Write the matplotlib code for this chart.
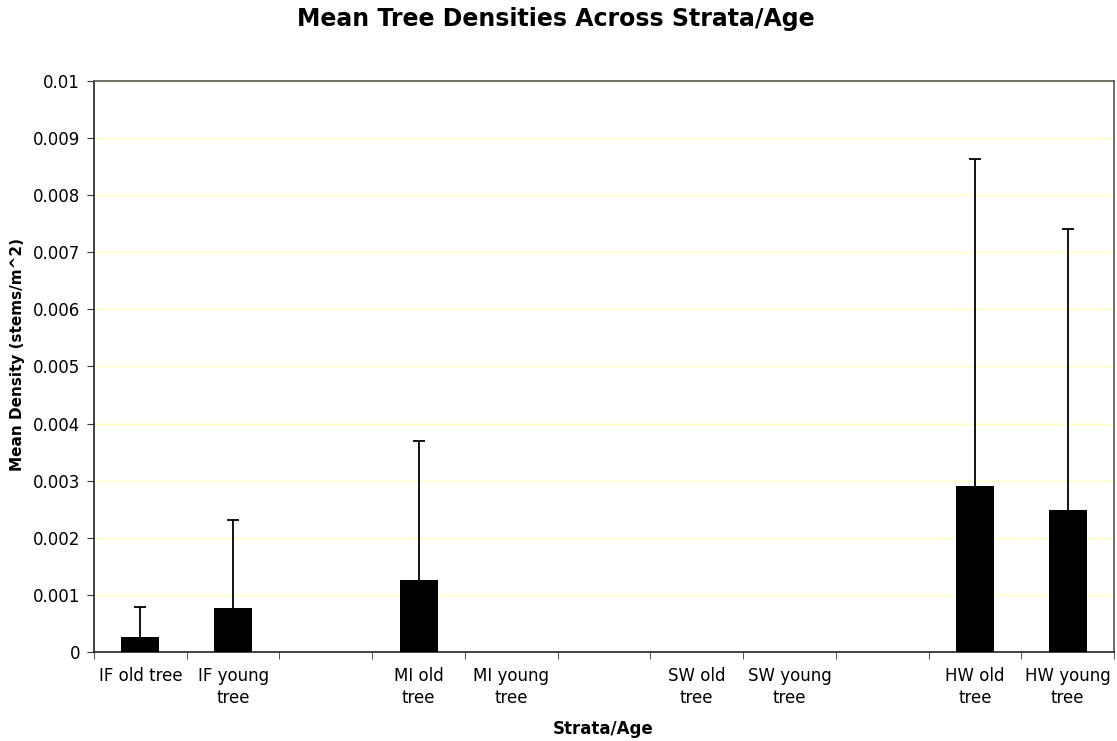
import numpy as np
import matplotlib.pyplot as plt

categories = ['IF old tree', 'IF young\ntree', '', 'MI old\ntree', 'MI young\ntree', '',
              'SW old\ntree', 'SW young\ntree', '', 'HW old\ntree', 'HW young\ntree']
means = [0.00026, 0.000765, 0, 0.00126, 0, 0, 0, 0, 0, 0.00291, 0.00249]
err_top = [0.00079, 0.00232, 0, 0.0037, 0, 0, 0, 0, 0, 0.00863, 0.0074]

means = np.array(means)
err_top = np.array(err_top)
has_bar = means > 0

fig = plt.figure(figsize=(11.17, 7.41), dpi=100)
ax = fig.add_axes([94/1117, 1 - 652/741, 1020/1117, 571/741])

x = np.arange(len(categories))
ax.bar(x, means, width=0.41, color='black', zorder=3)
# plus-only error bars (Excel style): stem from bar top, cap at the top
ax.vlines(x[has_bar], means[has_bar], err_top[has_bar], color='black', linewidth=1.3, zorder=4)
ax.plot(x[has_bar], err_top[has_bar], linestyle='none', marker='_', markersize=8,
        markeredgewidth=1.3, color='black', zorder=4)

ax.set_xlim(-0.5, len(categories) - 0.5)
ax.set_ylim(0, 0.01)
ax.set_yticks(np.arange(0, 0.0101, 0.001))
ax.set_yticklabels(['0'] + ['%g' % v for v in np.arange(0.001, 0.0101, 0.001)], fontsize=12)
ax.yaxis.grid(True, color='#ffffc0', linewidth=1, zorder=0)

ax.set_xticks(x)
ax.set_xticklabels(categories, fontsize=12, linespacing=1.25)
ax.tick_params(axis='x', length=0, pad=11)
ax.set_xticks(np.arange(-0.5, len(categories)), minor=True)
ax.tick_params(axis='x', which='minor', length=5, direction='out', color='#333333')
ax.tick_params(axis='y', length=5, direction='out', color='#333333', pad=5)

for s in ['left', 'bottom']:
    ax.spines[s].set_color('#222222')
    ax.spines[s].set_linewidth(1.2)
for s in ['top', 'right']:
    ax.spines[s].set_color('#555555')
    ax.spines[s].set_linewidth(1.2)

ax.set_xlabel('Strata/Age', fontsize=12, fontweight='bold')
ax.xaxis.set_label_coords(0.499, (652 - 729) / 571)
ax.xaxis.label.set_va('center')
ax.set_ylabel('Mean Density (stems/m^2)', fontsize=11, fontweight='bold')
ax.yaxis.set_label_coords((18 - 94) / 1020, (652 - 355) / 571)
ax.yaxis.label.set_va('center')
fig.text(556/1117, 1 - 19/741, 'Mean Tree Densities Across Strata/Age', fontsize=17,
         fontweight='bold', ha='center', va='center')

fig.savefig('out.png', dpi=100)
